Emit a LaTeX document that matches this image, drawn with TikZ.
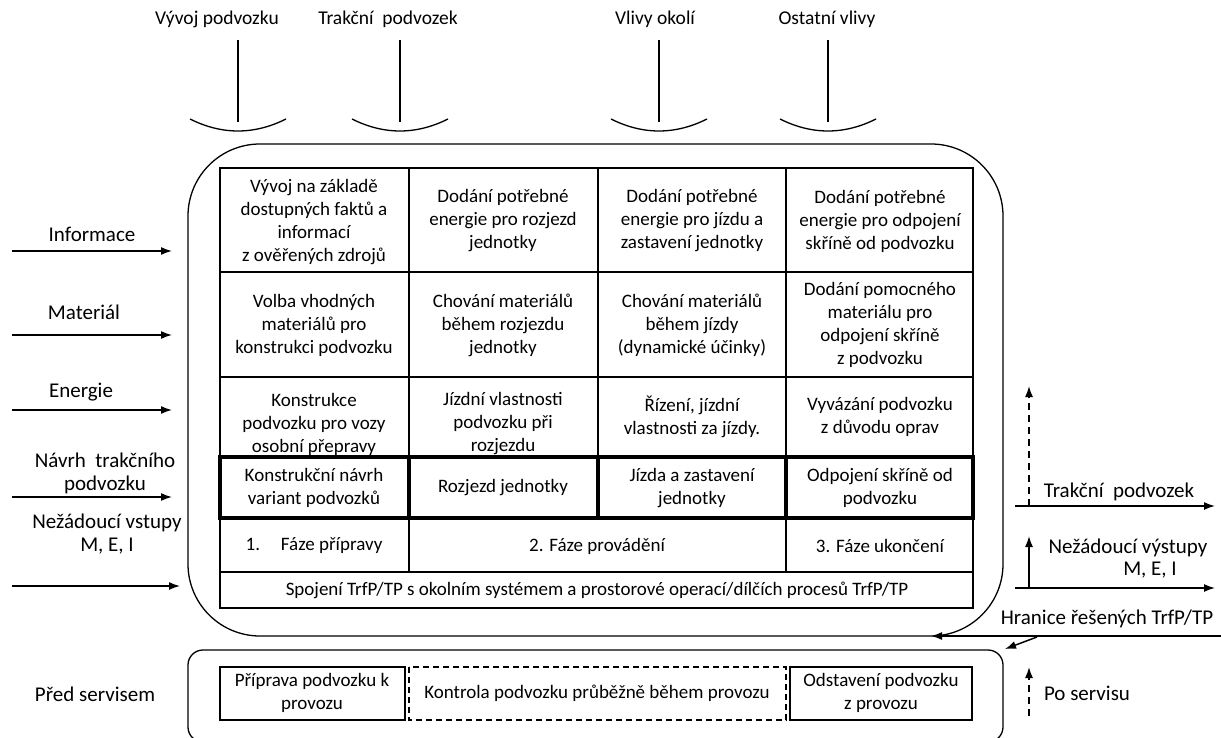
\documentclass[tikz,border=0pt]{standalone}
\usepackage{fontspec}
\setmainfont{Carlito}
\usetikzlibrary{arrows.meta}

\tikzset{
  celltext/.style={align=center, font=\fontsize{19}{23}\selectfont},
  sidetext/.style={align=center, font=\fontsize{21}{23}\selectfont},
  toptext/.style={font=\fontsize{19.5}{23}\selectfont},
  tabline/.style={line width=1.6pt},
  boldline/.style={line width=3.2pt},
  boundary/.style={line width=1.3pt},
  flow/.style={line width=1.5pt, -{Latex[length=11pt,width=8pt]}},
  dashflow/.style={flow, dash pattern=on 7pt off 5pt},
}

\begin{document}
\begin{tikzpicture}[x=1pt, y=-1pt]
\clip (0,0) rectangle (1221,738);

% vstupy shora
\node[toptext] (vyvoj) at (217,19) {Vývoj podvozku};
\node[toptext] (trakce) at (388,19) {Trakční~ podvozek};
\node[toptext] (okoli) at (655,19) {Vlivy okolí};
\node[toptext] (ostatni) at (827,19) {Ostatní vlivy};
\coordinate (vyvojA) at (238,40);  \coordinate (vyvojB) at (238,122);
\coordinate (trakceA) at (400,40); \coordinate (trakceB) at (400,122);
\coordinate (okoliA) at (659,40);  \coordinate (okoliB) at (659,122);
\coordinate (ostatniA) at (828,40); \coordinate (ostatniB) at (828,122);
\draw[boundary] (vyvojA) -- (vyvojB);
\draw[boundary] (trakceA) -- (trakceB);
\draw[boundary] (okoliA) -- (okoliB);
\draw[boundary] (ostatniA) -- (ostatniB);
\draw[boundary] (190,119) .. controls (222,135) and (254,135) .. (286,119);
\draw[boundary] (352,119) .. controls (384,135) and (416,135) .. (448,119);
\draw[boundary] (611,119) .. controls (643,135) and (675,135) .. (707,119);
\draw[boundary] (780,119) .. controls (812,135) and (844,135) .. (876,119);

% hranice systemu
\draw[boundary, rounded corners=72] (188,144) rectangle (1003,636);
\draw[boundary, rounded corners=15] (188,650) rectangle (1003,742);

% tabulka
\draw[tabline] (220,168) rectangle (973,608);
\draw[tabline] (220,272) -- (973,272);
\draw[tabline] (220,377) -- (973,377);
\draw[tabline] (220,572) -- (973,572);
\draw[tabline] (409,168) -- (409,572);
\draw[tabline] (598,168) -- (598,518);
\draw[tabline] (786,168) -- (786,572);
\draw[boldline] (220,457) rectangle (973,518);
\draw[boldline] (409,457) -- (409,518);
\draw[boldline] (598,457) -- (598,518);
\draw[boldline] (786,457) -- (786,518);

\node[celltext] (c11) at (314,222) {Vývoj na základě\\dostupných faktů a\\informací\\z ověřených zdrojů};
\node[celltext] (c12) at (503,221) {Dodání potřebné\\energie pro rozjezd\\jednotky};
\node[celltext] (c13) at (692,221) {Dodání potřebné\\energie pro jízdu a\\zastavení jednotky};
\node[celltext] (c14) at (880,221) {Dodání potřebné\\energie pro odpojení\\skříně od podvozku};

\node[celltext] (c21) at (314,325) {Volba vhodných\\materiálů pro\\konstrukci podvozku};
\node[celltext] (c22) at (503,325) {Chování materiálů\\během rozjezdu\\jednotky};
\node[celltext] (c23) at (692,325) {Chování materiálů\\během jízdy\\(dynamické účinky)};
\node[celltext] (c24) at (880,325) {Dodání pomocného\\materiálu pro\\odpojení skříně\\z podvozku};

\begin{scope}
\clip (220,377) rectangle (973,456);
\node[celltext] (c31) at (314,424) {Konstrukce\\podvozku pro vozy\\osobní přepravy};
\node[celltext] (c32) at (503,424) {Jízdní vlastnosti\\podvozku při\\rozjezdu};
\node[celltext] (c33) at (692,417) {Řízení, jízdní\\vlastnosti za jízdy.};
\node[celltext] (c34) at (880,417) {Vyvázání podvozku\\z důvodu oprav};
\end{scope}

\node[celltext] (c41) at (314,488) {Konstrukční návrh\\variant podvozků};
\node[celltext] (c42) at (503,488) {Rozjezd jednotky};
\node[celltext] (c43) at (692,488) {Jízda a zastavení\\jednotky};
\node[celltext] (c44) at (880,488) {Odpojení skříně od\\podvozku};

\node[celltext] (faze1) at (314,546) {1.\hspace{1.1em}Fáze přípravy};
\node[celltext] (faze2) at (597,546) {2. Fáze provádění};
\node[celltext] (faze3) at (880,546) {3. Fáze ukončení};
\node[celltext] (spojeni) at (597,590) {Spojení TrfP/TP s okolním systémem a prostorové operací/dílčích procesů TrfP/TP};

% vstupy zleva
\node[sidetext] (info) at (92,234) {Informace};
\node[sidetext] (mat) at (84,312) {Materiál};
\node[sidetext] (ener) at (81,392) {Energie};
\node[sidetext] (navrh) at (105,473) {Návrh~ trakčního\\podvozku};
\node[sidetext] (nezvst) at (107,534) {Nežádoucí vstupy\\M, E, I};
\coordinate (infoA) at (12,251);  \coordinate (infoB) at (172,251);
\coordinate (matA) at (12,335);   \coordinate (matB) at (172,335);
\coordinate (enerA) at (12,410);  \coordinate (enerB) at (172,410);
\coordinate (navrhA) at (12,497); \coordinate (navrhB) at (172,497);
\coordinate (nezvstA) at (12,586); \coordinate (nezvstB) at (180,586);
\draw[flow] (infoA) -- (infoB);
\draw[flow] (matA) -- (matB);
\draw[flow] (enerA) -- (enerB);
\draw[flow] (navrhA) -- (navrhB);
\draw[flow] (nezvstA) -- (nezvstB);

% vystupy vpravo
\node[sidetext] (vystup) at (1119,492) {Trakční~ podvozek};
\node[sidetext] (nezvys) at (1128,548) {Nežádoucí výstupy};
\node[sidetext] (mei) at (1150,570) {M, E, I};
\node[sidetext] (hranice) at (1107,619) {Hranice řešených TrfP/TP};
\coordinate (vystupA) at (1015,506); \coordinate (vystupB) at (1215,506);
\coordinate (nezvysA) at (1015,588); \coordinate (nezvysB) at (1215,588);
\coordinate (upA) at (1029,506);  \coordinate (upB) at (1029,386);
\coordinate (up2A) at (1029,588); \coordinate (up2B) at (1029,536);
\coordinate (hraniceA) at (1221,636); \coordinate (hraniceB) at (931,636);
\coordinate (dolA) at (1037,637); \coordinate (dolB) at (1005,649);
\draw[flow] (vystupA) -- (vystupB);
\draw[flow] (nezvysA) -- (nezvysB);
\draw[dashflow] (upA) -- (upB);
\draw[flow] (up2A) -- (up2B);
\draw[flow] (hraniceA) -- (hraniceB);
\draw[flow] (dolA) -- (dolB);

% servis
\node[sidetext] (pred) at (95,694) {Před servisem};
\node[sidetext] (po) at (1087,693) {Po servisu};
\coordinate (poA) at (1029,716); \coordinate (poB) at (1029,667);
\draw[dashflow] (poA) -- (poB);
\draw[boundary] (220,667) rectangle (405,720);
\draw[boundary, dash pattern=on 6pt off 4pt] (409,667) rectangle (786,720);
\draw[boundary] (790,667) rectangle (972,720);
\node[celltext] (priprava) at (312,693) {Příprava podvozku k\\provozu};
\node[celltext] (kontrola) at (597,693) {Kontrola podvozku průběžně během provozu};
\node[celltext] (odstaveni) at (881,693) {Odstavení podvozku\\z provozu};
\end{tikzpicture}
\end{document}
